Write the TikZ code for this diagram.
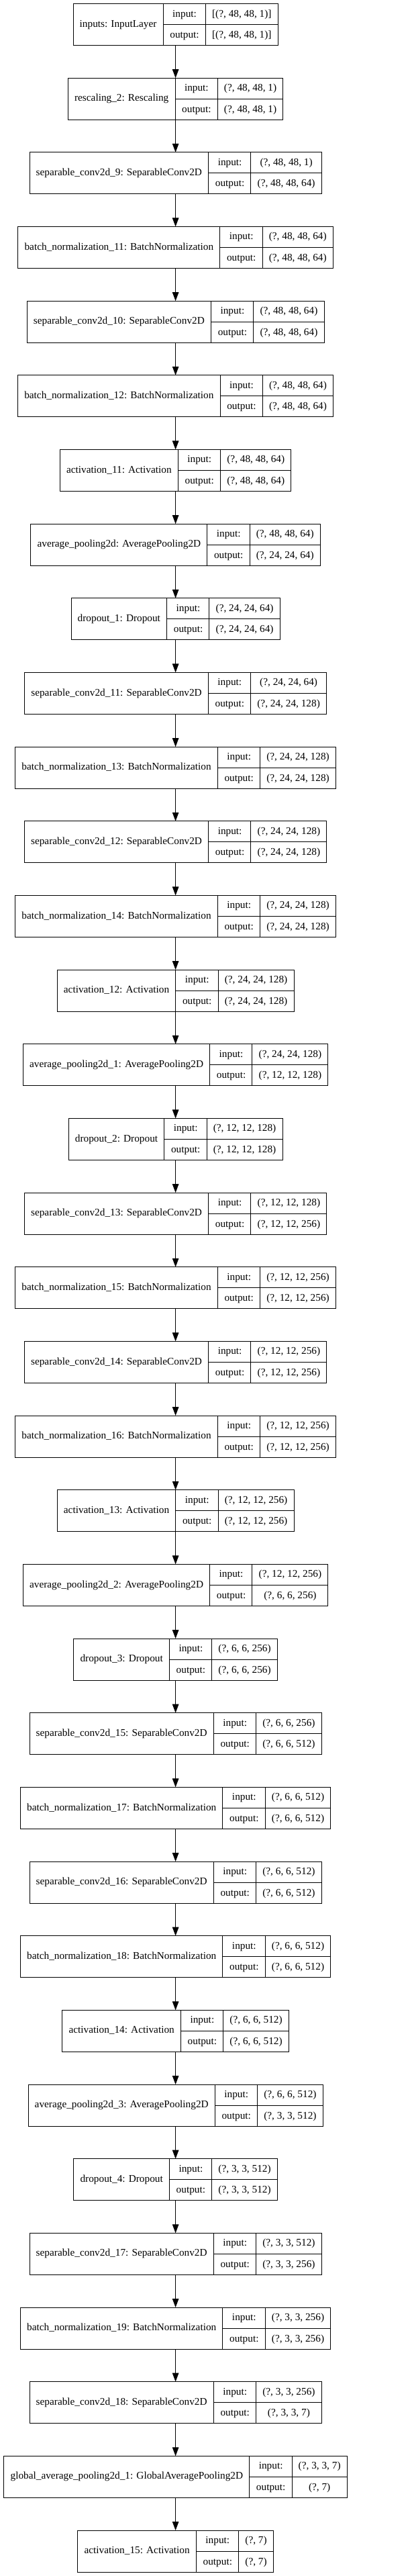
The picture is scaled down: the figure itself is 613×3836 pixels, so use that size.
\documentclass[tikz,border=0pt]{standalone}
\usepackage{fontspec}
\setmainfont{Liberation Serif}
\usetikzlibrary{arrows.meta}
\setlength{\tabcolsep}{9.7bp}
\setlength{\arrayrulewidth}{1bp}
\newcommand{\cellstrut}{\rule[-11bp]{0pt}{30.5bp}}
\newcommand{\layerrec}[3]{\begin{tabular}{c|@{}c@{}}#1&\begin{tabular}{c|c}input:&#2\cellstrut\\\hline output:&#3\cellstrut\end{tabular}\end{tabular}}
\begin{document}
\begin{tikzpicture}[x=1bp, y=1bp, line width=1bp, >={Triangle[length=13bp,width=9.5bp]},
kbox/.style={draw, inner sep=0pt, outer sep=0pt, font=\fontsize{15.3bp}{18bp}\selectfont}]
\useasboundingbox (-261.6,36.5) rectangle (351.4,-3799.1);
\node[kbox] (lid0) at (0,0) {\layerrec{inputs: InputLayer}{[(?, 48, 48, 1)]}{[(?, 48, 48, 1)]}};
\node[kbox] (lid1) at (0,-110.65) {\layerrec{rescaling\_2: Rescaling}{(?, 48, 48, 1)}{(?, 48, 48, 1)}};
\node[kbox] (lid2) at (0,-221.3) {\layerrec{separable\_conv2d\_9: SeparableConv2D}{(?, 48, 48, 1)}{(?, 48, 48, 64)}};
\node[kbox] (lid3) at (0,-331.95) {\layerrec{batch\_normalization\_11: BatchNormalization}{(?, 48, 48, 64)}{(?, 48, 48, 64)}};
\node[kbox] (lid4) at (0,-442.6) {\layerrec{separable\_conv2d\_10: SeparableConv2D}{(?, 48, 48, 64)}{(?, 48, 48, 64)}};
\node[kbox] (lid5) at (0,-553.25) {\layerrec{batch\_normalization\_12: BatchNormalization}{(?, 48, 48, 64)}{(?, 48, 48, 64)}};
\node[kbox] (lid6) at (0,-663.9) {\layerrec{activation\_11: Activation}{(?, 48, 48, 64)}{(?, 48, 48, 64)}};
\node[kbox] (lid7) at (0,-774.55) {\layerrec{average\_pooling2d: AveragePooling2D}{(?, 48, 48, 64)}{(?, 24, 24, 64)}};
\node[kbox] (lid8) at (0,-885.2) {\layerrec{dropout\_1: Dropout}{(?, 24, 24, 64)}{(?, 24, 24, 64)}};
\node[kbox] (lid9) at (0,-995.85) {\layerrec{separable\_conv2d\_11: SeparableConv2D}{(?, 24, 24, 64)}{(?, 24, 24, 128)}};
\node[kbox] (lid10) at (0,-1106.5) {\layerrec{batch\_normalization\_13: BatchNormalization}{(?, 24, 24, 128)}{(?, 24, 24, 128)}};
\node[kbox] (lid11) at (0,-1217.15) {\layerrec{separable\_conv2d\_12: SeparableConv2D}{(?, 24, 24, 128)}{(?, 24, 24, 128)}};
\node[kbox] (lid12) at (0,-1327.8) {\layerrec{batch\_normalization\_14: BatchNormalization}{(?, 24, 24, 128)}{(?, 24, 24, 128)}};
\node[kbox] (lid13) at (0,-1438.45) {\layerrec{activation\_12: Activation}{(?, 24, 24, 128)}{(?, 24, 24, 128)}};
\node[kbox] (lid14) at (0,-1549.1) {\layerrec{average\_pooling2d\_1: AveragePooling2D}{(?, 24, 24, 128)}{(?, 12, 12, 128)}};
\node[kbox] (lid15) at (0,-1659.75) {\layerrec{dropout\_2: Dropout}{(?, 12, 12, 128)}{(?, 12, 12, 128)}};
\node[kbox] (lid16) at (0,-1770.4) {\layerrec{separable\_conv2d\_13: SeparableConv2D}{(?, 12, 12, 128)}{(?, 12, 12, 256)}};
\node[kbox] (lid17) at (0,-1881.05) {\layerrec{batch\_normalization\_15: BatchNormalization}{(?, 12, 12, 256)}{(?, 12, 12, 256)}};
\node[kbox] (lid18) at (0,-1991.7) {\layerrec{separable\_conv2d\_14: SeparableConv2D}{(?, 12, 12, 256)}{(?, 12, 12, 256)}};
\node[kbox] (lid19) at (0,-2102.35) {\layerrec{batch\_normalization\_16: BatchNormalization}{(?, 12, 12, 256)}{(?, 12, 12, 256)}};
\node[kbox] (lid20) at (0,-2213) {\layerrec{activation\_13: Activation}{(?, 12, 12, 256)}{(?, 12, 12, 256)}};
\node[kbox] (lid21) at (0,-2323.65) {\layerrec{average\_pooling2d\_2: AveragePooling2D}{(?, 12, 12, 256)}{(?, 6, 6, 256)}};
\node[kbox] (lid22) at (0,-2434.3) {\layerrec{dropout\_3: Dropout}{(?, 6, 6, 256)}{(?, 6, 6, 256)}};
\node[kbox] (lid23) at (0,-2544.95) {\layerrec{separable\_conv2d\_15: SeparableConv2D}{(?, 6, 6, 256)}{(?, 6, 6, 512)}};
\node[kbox] (lid24) at (0,-2655.6) {\layerrec{batch\_normalization\_17: BatchNormalization}{(?, 6, 6, 512)}{(?, 6, 6, 512)}};
\node[kbox] (lid25) at (0,-2766.25) {\layerrec{separable\_conv2d\_16: SeparableConv2D}{(?, 6, 6, 512)}{(?, 6, 6, 512)}};
\node[kbox] (lid26) at (0,-2876.9) {\layerrec{batch\_normalization\_18: BatchNormalization}{(?, 6, 6, 512)}{(?, 6, 6, 512)}};
\node[kbox] (lid27) at (0,-2987.55) {\layerrec{activation\_14: Activation}{(?, 6, 6, 512)}{(?, 6, 6, 512)}};
\node[kbox] (lid28) at (0,-3098.2) {\layerrec{average\_pooling2d\_3: AveragePooling2D}{(?, 6, 6, 512)}{(?, 3, 3, 512)}};
\node[kbox] (lid29) at (0,-3208.85) {\layerrec{dropout\_4: Dropout}{(?, 3, 3, 512)}{(?, 3, 3, 512)}};
\node[kbox] (lid30) at (0,-3319.5) {\layerrec{separable\_conv2d\_17: SeparableConv2D}{(?, 3, 3, 512)}{(?, 3, 3, 256)}};
\node[kbox] (lid31) at (0,-3430.15) {\layerrec{batch\_normalization\_19: BatchNormalization}{(?, 3, 3, 256)}{(?, 3, 3, 256)}};
\node[kbox] (lid32) at (0,-3540.8) {\layerrec{separable\_conv2d\_18: SeparableConv2D}{(?, 3, 3, 256)}{(?, 3, 3, 7)}};
\node[kbox] (lid33) at (0,-3651.45) {\layerrec{global\_average\_pooling2d\_1: GlobalAveragePooling2D}{(?, 3, 3, 7)}{(?, 7)}};
\node[kbox] (lid34) at (0,-3762.1) {\layerrec{activation\_15: Activation}{(?, 7)}{(?, 7)}};
\draw[->](lid0) -- (lid1);
\draw[->](lid1) -- (lid2);
\draw[->](lid2) -- (lid3);
\draw[->](lid3) -- (lid4);
\draw[->](lid4) -- (lid5);
\draw[->](lid5) -- (lid6);
\draw[->](lid6) -- (lid7);
\draw[->](lid7) -- (lid8);
\draw[->](lid8) -- (lid9);
\draw[->](lid9) -- (lid10);
\draw[->](lid10) -- (lid11);
\draw[->](lid11) -- (lid12);
\draw[->](lid12) -- (lid13);
\draw[->](lid13) -- (lid14);
\draw[->](lid14) -- (lid15);
\draw[->](lid15) -- (lid16);
\draw[->](lid16) -- (lid17);
\draw[->](lid17) -- (lid18);
\draw[->](lid18) -- (lid19);
\draw[->](lid19) -- (lid20);
\draw[->](lid20) -- (lid21);
\draw[->](lid21) -- (lid22);
\draw[->](lid22) -- (lid23);
\draw[->](lid23) -- (lid24);
\draw[->](lid24) -- (lid25);
\draw[->](lid25) -- (lid26);
\draw[->](lid26) -- (lid27);
\draw[->](lid27) -- (lid28);
\draw[->](lid28) -- (lid29);
\draw[->](lid29) -- (lid30);
\draw[->](lid30) -- (lid31);
\draw[->](lid31) -- (lid32);
\draw[->](lid32) -- (lid33);
\draw[->](lid33) -- (lid34);

\end{tikzpicture}
\end{document}
